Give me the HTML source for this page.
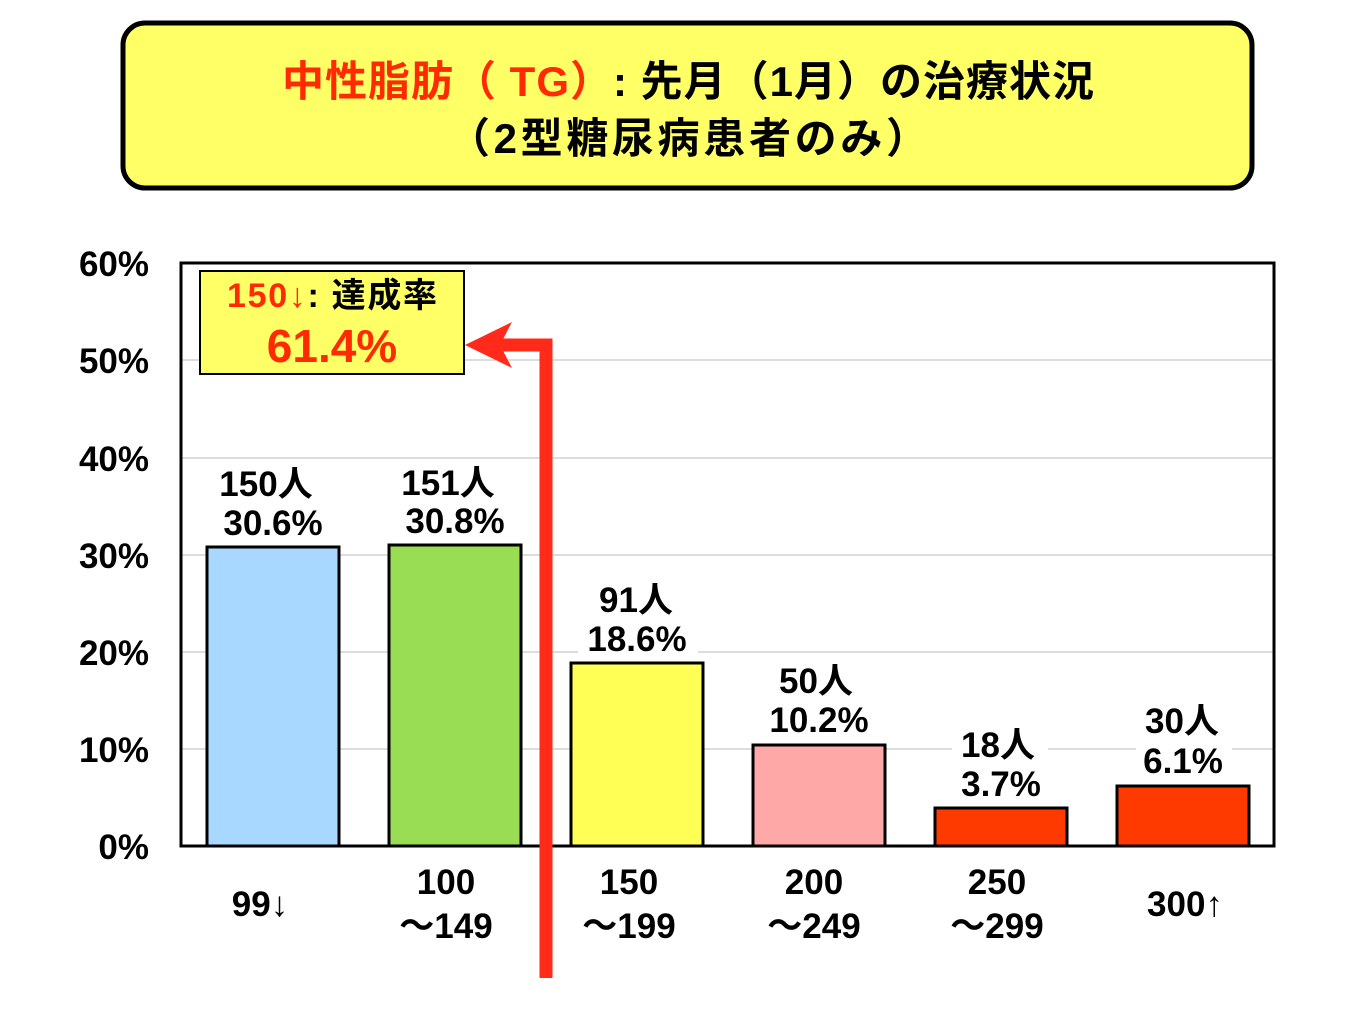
<!DOCTYPE html>
<html><head><meta charset="utf-8">
<style>
html,body{margin:0;padding:0;background:#fff;}
svg{display:block;}
text{font-family:"Liberation Sans","Noto Sans CJK JP",sans-serif;font-weight:bold;}
</style></head>
<body>
<svg width="1365" height="1024" viewBox="0 0 1365 1024" xmlns="http://www.w3.org/2000/svg">
<rect x="0" y="0" width="1365" height="1024" fill="#fff"/>
<rect x="123" y="23" width="1129" height="165" rx="22" fill="#ffff66" stroke="#000" stroke-width="5"/>
<text x="688" y="96" font-size="42" text-anchor="middle" textLength="812"><tspan fill="#ff2a00">中性脂肪（ TG）</tspan><tspan fill="#000">: 先月（1月）の治療状況</tspan></text>
<text x="688" y="153" font-size="42" text-anchor="middle" fill="#000" textLength="480">（2型糖尿病患者のみ）</text>
<g stroke="#bbb" stroke-width="1">
<line x1="181" y1="749" x2="1274" y2="749"/>
<line x1="181" y1="652" x2="1274" y2="652"/>
<line x1="181" y1="555" x2="1274" y2="555"/>
<line x1="181" y1="458" x2="1274" y2="458"/>
<line x1="181" y1="360" x2="1274" y2="360"/>
</g>
<rect x="181" y="263" width="1093" height="583" fill="none" stroke="#000" stroke-width="3"/>
<g font-size="35" text-anchor="end" fill="#000">
<text x="149" y="859">0%</text>
<text x="149" y="762">10%</text>
<text x="149" y="665">20%</text>
<text x="149" y="568">30%</text>
<text x="149" y="471">40%</text>
<text x="149" y="373">50%</text>
<text x="149" y="276">60%</text>
</g>
<g stroke="#000" stroke-width="3">
<rect x="207" y="547" width="132" height="299" fill="#a8d8ff"/>
<rect x="389" y="545" width="132" height="301" fill="#99dd55"/>
<rect x="571" y="663" width="132" height="183" fill="#ffff55"/>
<rect x="753" y="745" width="132" height="101" fill="#ffa8a8"/>
<rect x="935" y="808" width="132" height="38" fill="#ff3a00"/>
<rect x="1117" y="786" width="132" height="60" fill="#ff3a00"/>
</g>
<line x1="181" y1="846" x2="1274" y2="846" stroke="#000" stroke-width="3"/>
<g font-size="35" text-anchor="middle" fill="#000">
<rect x="213" y="500" width="120" height="40" fill="#fff"/>
<text x="266" y="496">150人</text><text x="273" y="535">30.6%</text>
<rect x="395" y="498" width="120" height="40" fill="#fff"/>
<text x="448" y="495">151人</text><text x="455" y="533">30.8%</text>
<rect x="578" y="620" width="120" height="38" fill="#fff"/>
<text x="636" y="612">91人</text><text x="637" y="651">18.6%</text>
<rect x="760" y="700" width="120" height="40" fill="#fff"/>
<text x="816" y="693">50人</text><text x="819" y="732">10.2%</text>
<rect x="952" y="728" width="96" height="74" fill="#fff"/>
<text x="998" y="757">18人</text><text x="1001" y="796">3.7%</text>
<rect x="1136" y="705" width="96" height="75" fill="#fff"/>
<text x="1182" y="733">30人</text><text x="1183" y="773">6.1%</text>
</g>
<g font-size="35" text-anchor="middle" fill="#000">
<text x="260" y="916">99↓</text>
<text x="446" y="894">100</text><text x="446" y="938">～149</text>
<text x="629" y="894">150</text><text x="629" y="938">～199</text>
<text x="814" y="894">200</text><text x="814" y="938">～249</text>
<text x="997" y="894">250</text><text x="997" y="938">～299</text>
<text x="1185" y="916">300↑</text>
</g>
<polyline points="546,978 546,345 500,345" fill="none" stroke="#ff2a1a" stroke-width="13"/>
<polygon points="465,345 512,322 500,345 512,368" fill="#ff2a1a"/>
<rect x="200" y="271" width="264" height="103" fill="#ffff66" stroke="#000" stroke-width="2"/>
<text x="332" y="307" font-size="34" text-anchor="middle" textLength="210"><tspan fill="#ff2a00">150↓</tspan><tspan fill="#000">: 達成率</tspan></text>
<text x="332" y="362" font-size="46" text-anchor="middle" fill="#ff2a00">61.4%</text>
</svg>
</body></html>
